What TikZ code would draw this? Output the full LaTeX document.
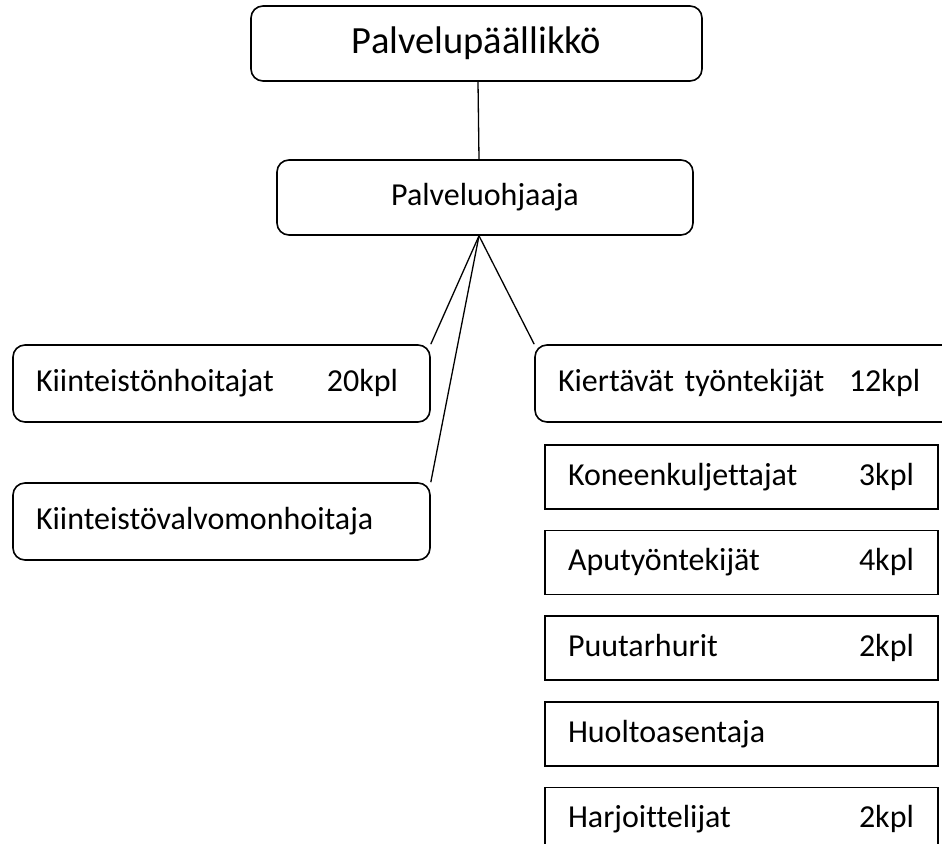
\documentclass[tikz,border=0pt]{standalone}
\usepackage{fontspec}
\setmainfont{Carlito}[Ligatures=NoCommon]
\usetikzlibrary{positioning}
\tikzset{
  orgbox/.style  = {draw, line width=1.6pt, rounded corners=12pt,
                    minimum height=77pt, inner xsep=23pt, inner ysep=0pt,
                    font=\fontsize{32}{38}\selectfont},
  unitbox/.style = {draw, line width=1.6pt, rectangle, minimum height=64pt,
                    text width=347pt, align=left, inner xsep=23pt,
                    inner ysep=0pt, font=\fontsize{32}{38}\selectfont},
  link/.style    = {line width=1.3pt},
}
\newcommand{\tabbed}[2]{\makebox[291pt][l]{#1}#2}

\begin{document}
\begin{tikzpicture}[x=1pt, y=1pt, node distance=20pt]
\useasboundingbox (0,0) rectangle (942,-843);
\clip (0,0) rectangle (942,-843);
\node[orgbox, minimum width=451pt, minimum height=75pt,
      font=\fontsize{38.5}{46}\selectfont] (chief) at (476.5,-43.5) {Palvelupäällikkö};
\node[orgbox, minimum width=416pt, minimum height=75pt] (coord) at (485,-197.5) {Palveluohjaaja};
\node[orgbox, text width=371pt, align=left] (caretakers) at (221.5,-383.5)
  {\tabbed{Kiinteistönhoitajat}{20kpl}};
\node[orgbox, text width=371pt, align=left] (monitor) at (221.5,-521.5)
  {Kiinteistövalvomonhoitaja};
\node[orgbox, text width=379pt, align=left] (rotating) at (747.5,-383.5)
  {\tabbed{Kiertävät työntekijät}{12kpl}};
% rotating staff
\node[unitbox] (drivers) at (741.5,-477) {\tabbed{Koneenkuljettajat}{3kpl}};
\node[unitbox, below=of drivers] (helpers) {\tabbed{Aputyöntekijät}{4kpl}};
\node[unitbox, below=of helpers] (gardeners) {\tabbed{Puutarhurit}{2kpl}};
\node[unitbox, below=of gardeners] (service) {Huoltoasentaja};
\node[unitbox, below=of service] (trainees) {\tabbed{Harjoittelijat}{2kpl}};
\coordinate (fan) at ([xshift=-6pt]coord.south);
\draw[link] ([xshift=1.5pt]chief.south) -- (coord.north -| fan);
\foreach \n in {caretakers.north east, monitor.north east, rotating.north west}
  \draw[link] (fan) -- (\n);
\end{tikzpicture}
\end{document}
